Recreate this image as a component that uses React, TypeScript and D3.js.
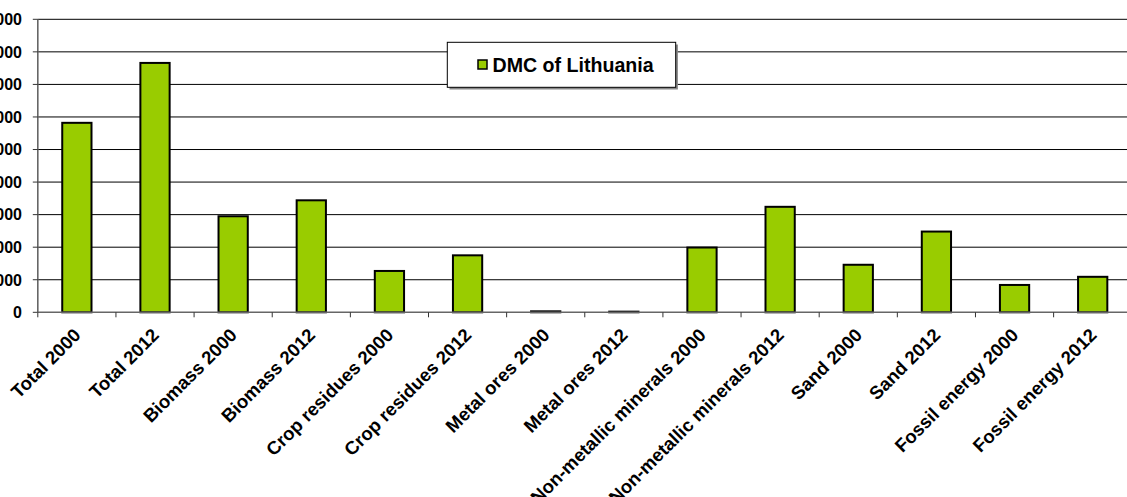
import React from "react";
import * as d3 from "d3";

// Domestic material consumption by material group, thousand tonnes
const categories = [
  "Total 2000",
  "Total 2012",
  "Biomass 2000",
  "Biomass 2012",
  "Crop residues 2000",
  "Crop residues 2012",
  "Metal ores 2000",
  "Metal ores 2012",
  "Non-metallic minerals 2000",
  "Non-metallic minerals 2012",
  "Sand 2000",
  "Sand 2012",
  "Fossil energy 2000",
  "Fossil energy 2012",
];

const dmcValues = [
  29100, 38300, 14750, 17200, 6350, 8750, 150, 100, 9950, 16200, 7300, 12400,
  4200, 5450,
];

const yTicks = [0, 5000, 10000, 15000, 20000, 25000, 30000, 35000, 40000, 45000];

const seriesName = "DMC of Lithuania";

const WIDTH = 1127;
const HEIGHT = 497;
const FONT = "'Liberation Sans', Arial, Helvetica, sans-serif";
const BAR_FILL = "#99CC00";

export default function App() {
  const plotLeft = 37.8;
  const band = 78.14;
  const plotRight = plotLeft + band * categories.length;
  const plotTop = 19.3;
  const plotBottom = 312.3;

  const x = d3
    .scaleBand<string>()
    .domain(categories)
    .range([plotLeft, plotRight])
    .paddingInner(0)
    .paddingOuter(0);

  const y = d3
    .scaleLinear()
    .domain([0, yTicks[yTicks.length - 1]])
    .range([plotBottom, plotTop]);

  const barW = x.bandwidth() * 0.4;
  const stroke = 2;

  const boundaries = d3.range(categories.length + 1).map((i) => plotLeft + i * band);

  return (
    <svg
      width={WIDTH}
      height={HEIGHT}
      style={{ position: "absolute", left: 0, top: 0, background: "#fff" }}
      fontFamily={FONT}
      fontWeight="bold"
    >
      {/* horizontal gridlines */}
      {yTicks.slice(1).map((t) => (
        <line
          key={"g" + t}
          x1={plotLeft}
          x2={plotRight}
          y1={y(t)}
          y2={y(t)}
          stroke="#000"
          strokeWidth={1}
        />
      ))}

      {/* bars */}
      {categories.map((c, i) => {
        const cx = (x(c) as number) + x.bandwidth() / 2;
        const top = y(dmcValues[i]);
        return (
          <rect
            key={c}
            x={cx - barW / 2 + stroke / 2}
            y={top}
            width={barW - stroke}
            height={Math.max(0, plotBottom - top)}
            fill={BAR_FILL}
            stroke="#000"
            strokeWidth={stroke}
          />
        );
      })}

      {/* value axis; the chart area is cropped on the left, so only the
          trailing digits of each tick label fall inside the frame */}
      <line x1={plotLeft} x2={plotLeft} y1={plotTop} y2={plotBottom} stroke="#666" strokeWidth={1.6} />
      {yTicks.map((t) => (
        <g key={"yt" + t}>
          <line x1={plotLeft - 5} x2={plotLeft} y1={y(t)} y2={y(t)} stroke="#333" strokeWidth={1} />
          <text
            x={22}
            y={y(t)}
            dy="0.36em"
            textAnchor="end"
            fontSize={16}
            fill="#000"
          >
            {t}
          </text>
        </g>
      ))}

      {/* category axis */}
      <line x1={plotLeft} x2={plotRight} y1={plotBottom} y2={plotBottom} stroke="#666" strokeWidth={1.6} />
      {boundaries.map((bx, i) => (
        <line key={"xt" + i} x1={bx} x2={bx} y1={plotBottom} y2={plotBottom + 5} stroke="#333" strokeWidth={1} />
      ))}
      {categories.map((c) => {
        const cx = (x(c) as number) + x.bandwidth() / 2;
        return (
          <text
            key={"xl" + c}
            transform={`translate(${cx + 5},${plotBottom + 24}) rotate(-45)`}
            textAnchor="end"
            fontSize={18.5}
            fill="#000"
          >
            {c}
          </text>
        );
      })}

      {/* legend */}
      <g>
        <rect x={449.5} y={44.5} width={228.4} height={45} fill="#888" />
        <rect x={447.3} y={42.3} width={228.4} height={45} fill="#fff" stroke="#000" strokeWidth={1} />
        <rect x={478} y={60} width={9} height={9} fill={BAR_FILL} stroke="#000" strokeWidth={1.5} />
        <text x={492.5} y={71.5} fontSize={19.6} fill="#000">
          {seriesName}
        </text>
      </g>
    </svg>
  );
}
